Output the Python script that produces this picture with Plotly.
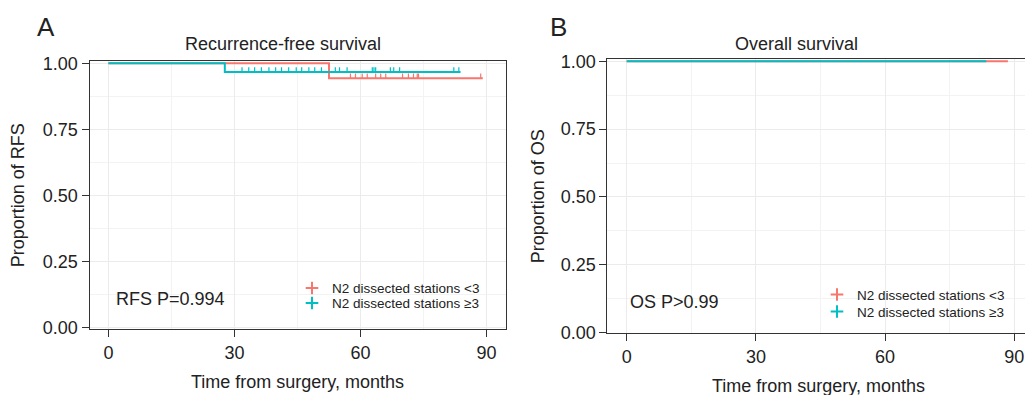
import plotly.graph_objects as go

W, H = 1025, 395
RED = "#F8766D"
TEAL = "#00BFC4"
FONT = "Liberation Sans, Arial, sans-serif"
TXT = "#222222"

# ---------------- data ----------------
groups = ["N2 dissected stations <3", "N2 dissected stations ≥3"]

# Panel A: recurrence-free survival (step curves)
rfs_lt3_t = [0, 52.5, 89.1]
rfs_lt3_s = [1.0, 0.944, 0.944]
rfs_lt3_cens_t = [57.6, 58.8, 60.4, 61.6, 63.6, 64.8, 66.0, 70.0, 71.4, 72.6, 73.5, 73.8, 88.6]

rfs_ge3_t = [0, 27.7, 83.8]
rfs_ge3_s = [1.0, 0.967, 0.967]
rfs_ge3_cens_t = [31.8, 33.4, 34.8, 36.4, 38.2, 39.8, 41.2, 42.9, 44.7, 46.0, 47.7, 49.1, 50.7,
                  54.0, 55.0, 56.8, 62.8, 63.2, 63.6, 67.1, 67.9, 69.3, 82.2, 83.4]

# Panel B: overall survival
os_lt3_t = [0, 88.5]
os_lt3_s = [1.0, 1.0]
os_ge3_t = [0, 83.5]
os_ge3_s = [1.0, 1.0]

x_ticks = [0, 30, 60, 90]
y_ticks = [0, 0.25, 0.5, 0.75, 1.0]
y_ticklabels = ["0.00", "0.25", "0.50", "0.75", "1.00"]

rfs_p_text = "RFS P=0.994"
os_p_text = "OS P>0.99"


def step_value(ts, ss, t):
    v = ss[0]
    for ti, si in zip(ts, ss):
        if ti <= t:
            v = si
    return v


# ---------------- layout geometry (target picture pixels -> paper fractions) ----------------
Y0, HS = 7.6, 379.2   # observed vertical placement of the figure in the photographed page


def px_x(x):
    return x / W


def px_y(y):
    return 1 - (y - Y0) / HS


A_range_y = [-0.005, 1.009]
A_ppu = 264.7          # pixels per survival unit in panel A
A_top = 64 - (A_range_y[1] - 1) * A_ppu
A_bot = 328.7 - A_range_y[0] * A_ppu

B_range_y = [-0.003, 1.008]
B_ppu = 271.3
B_top = 62 - (B_range_y[1] - 1) * B_ppu
B_bot = 333.3 - B_range_y[0] * B_ppu

fig = go.Figure()

# Panel A curves
fig.add_trace(go.Scatter(x=rfs_lt3_t, y=rfs_lt3_s, mode="lines", line=dict(color=RED, width=2, shape="hv"),
                         showlegend=False, xaxis="x", yaxis="y"))
fig.add_trace(go.Scatter(x=rfs_ge3_t, y=rfs_ge3_s, mode="lines", line=dict(color=TEAL, width=2, shape="hv"),
                         showlegend=False, xaxis="x", yaxis="y"))

off_A = 2.0 / A_ppu
fig.add_trace(go.Scatter(x=rfs_lt3_cens_t,
                         y=[step_value(rfs_lt3_t, rfs_lt3_s, t) + off_A for t in rfs_lt3_cens_t],
                         mode="markers", marker=dict(symbol="line-ns", size=4, color=RED,
                                                     line=dict(color=RED, width=1.2)),
                         showlegend=False, xaxis="x", yaxis="y"))
fig.add_trace(go.Scatter(x=rfs_ge3_cens_t,
                         y=[step_value(rfs_ge3_t, rfs_ge3_s, t) + off_A for t in rfs_ge3_cens_t],
                         mode="markers", marker=dict(symbol="line-ns", size=4, color=TEAL,
                                                     line=dict(color=TEAL, width=1.2)),
                         showlegend=False, xaxis="x", yaxis="y"))

# Panel B curves
fig.add_trace(go.Scatter(x=os_lt3_t, y=os_lt3_s, mode="lines", line=dict(color=RED, width=2, shape="hv"),
                         showlegend=False, xaxis="x2", yaxis="y2"))
fig.add_trace(go.Scatter(x=os_ge3_t, y=os_ge3_s, mode="lines", line=dict(color=TEAL, width=2, shape="hv"),
                         showlegend=False, xaxis="x2", yaxis="y2"))

# Legend entries: one legend per row so rows can sit close together like the reference
legend_rows = [
    ("legend", "x", "y", groups[0], RED, 332, 289),
    ("legend2", "x", "y", groups[1], TEAL, 332, 304),
    ("legend3", "x2", "y2", groups[0], RED, 857, 295.5),
    ("legend4", "x2", "y2", groups[1], TEAL, 857, 312.5),
]
legend_layout = {}
for leg, xa, ya, name, col, tx, ty in legend_rows:
    fig.add_trace(go.Scatter(x=[None], y=[None], mode="markers", name=name,
                             marker=dict(symbol="cross-thin", size=9, color=col,
                                         line=dict(color=col, width=2)),
                             legend=leg, xaxis=xa, yaxis=ya, showlegend=True))
    legend_layout[leg] = dict(x=px_x(tx - 40), y=px_y(ty), xanchor="left", yanchor="middle",
                              itemwidth=30, borderwidth=0, bgcolor="rgba(0,0,0,0)",
                              font=dict(family=FONT, size=13.5, color=TXT))

axis_common = dict(
    showline=True, linecolor="#333333", linewidth=1,
    ticks="outside", ticklen=7, tickwidth=1, tickcolor="#333333",
    tickfont=dict(family=FONT, size=18, color=TXT),
    showgrid=True, gridcolor="#EBEBEB", gridwidth=1,
    zeroline=False,
)
minor_x = dict(dtick=15, tick0=0, showgrid=True, gridcolor="#F3F3F3", gridwidth=0.7, ticks="")
minor_y = dict(dtick=0.125, tick0=0, showgrid=True, gridcolor="#F3F3F3", gridwidth=0.7, ticks="")

fig.update_layout(
    width=W, height=H,
    margin=dict(l=0, r=0, t=0, b=0),
    paper_bgcolor="white", plot_bgcolor="white",
    font=dict(family=FONT, color=TXT),
    xaxis=dict(domain=[px_x(89.5), px_x(505.5)], range=[-4.5, 94.5], tickvals=x_ticks,
               mirror=True, anchor="y", minor=minor_x, **axis_common),
    yaxis=dict(domain=[px_y(A_bot), px_y(A_top)], range=A_range_y, tickvals=y_ticks,
               ticktext=y_ticklabels, mirror=True, anchor="x", minor=minor_y, **axis_common),
    xaxis2=dict(domain=[px_x(607.3), 1.0], range=[-4.5, (W - 626.7) / 4.307], tickvals=x_ticks,
                mirror=True, anchor="y2", ticklabeloverflow="allow", minor=minor_x, **axis_common),
    yaxis2=dict(domain=[px_y(B_bot), px_y(B_top)], range=B_range_y, tickvals=y_ticks,
                ticktext=y_ticklabels, mirror=False, anchor="x2", minor=minor_y, **axis_common),
    **legend_layout,
)

ann = [
    dict(text="A", x=px_x(35), y=px_y(28), xanchor="left", yanchor="middle", font=dict(size=26)),
    dict(text="B", x=px_x(548), y=px_y(28), xanchor="left", yanchor="middle", font=dict(size=26)),
    dict(text="Recurrence-free survival", x=px_x(283), y=px_y(45), xanchor="center", yanchor="middle",
         font=dict(size=18)),
    dict(text="Overall survival", x=px_x(796), y=px_y(45), xanchor="center", yanchor="middle",
         font=dict(size=18)),
    dict(text="Time from surgery, months", x=px_x(297), y=px_y(383), xanchor="center", yanchor="middle",
         font=dict(size=18)),
    dict(text="Time from surgery, months", x=px_x(818), y=px_y(386.5), xanchor="center", yanchor="middle",
         font=dict(size=18)),
    dict(text="Proportion of RFS", x=px_x(18), y=px_y(196), xanchor="center", yanchor="middle",
         textangle=-90, font=dict(size=18)),
    dict(text="Proportion of OS", x=px_x(538), y=px_y(197), xanchor="center", yanchor="middle",
         textangle=-90, font=dict(size=18)),
    dict(text=rfs_p_text, x=px_x(114), y=px_y(300), xanchor="left", yanchor="middle", font=dict(size=18)),
    dict(text=os_p_text, x=px_x(628), y=px_y(303), xanchor="left", yanchor="middle", font=dict(size=18)),
]
for a in ann:
    a.update(xref="paper", yref="paper", showarrow=False)
    a["font"] = dict(family=FONT, color=TXT, **a["font"])
fig.update_layout(annotations=ann)

# remove the browser's default 8px page margin so the 1025-wide figure fits the window
fig.write_html("out.html", config={"displayModeBar": False},
               post_script="document.body.style.margin='0';document.body.style.overflow='hidden';")
